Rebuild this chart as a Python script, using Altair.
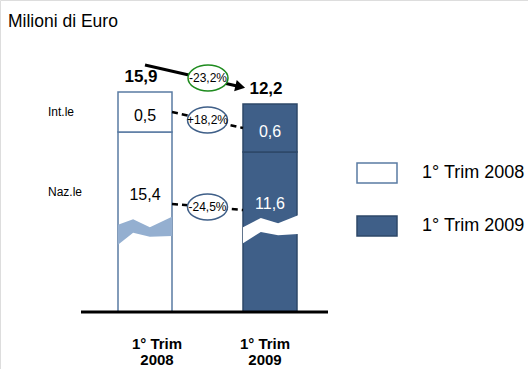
import altair as alt
import pandas as pd

# --- data -------------------------------------------------------------
periods = ["1° Trim 2008", "1° Trim 2009"]
naz = [15.4, 11.6]          # Naz.le, milioni di euro
intl = [0.5, 0.6]           # Int.le, milioni di euro
totals = [15.9, 12.2]
change_labels = ["-23,2%", "+18,2%", "-24,5%"]   # totale, Int.le, Naz.le
axis_break = [13.15, 9.6]   # part of each Naz.le bar cut out by the axis break

# --- layout constants -------------------------------------------------
FONT = "Liberation Sans"
centers = [1.0, 2.0]
half_w = 0.216
fills = ["#FFFFFF", "#3F5F88"]
strokes = ["#5A7BA3", "#2E4868"]
seg_text = ["black", "white"]
naz_label_y = [1.46, 1.35]
period_label_dx = [0.096, -0.04]
band_colors = ["#94AFD0", "#FFFFFF"]
band_shape = [  # (x fraction across bar, lower, upper) per bar
    [(0.0, 0.84, 1.09), (0.28, 0.99, 1.16), (0.59, 0.94, 1.06), (1.0, 0.95, 1.19)],
    [(0.0, 0.86, 1.06), (0.33, 1.00, 1.175), (0.65, 0.96, 1.11), (1.02, 0.975, 1.21)],
]


def fmt(v):
    return f"{v:.1f}".replace(".", ",")


xs = alt.Scale(domain=[-0.16, 4.064], nice=False, zero=False)
ys = alt.Scale(domain=[-0.7125, 3.9], nice=False, zero=False)

# --- stacked (broken) bars -------------------------------------------
bar_rows, seg_rows, top_rows, band_rows = [], [], [], []
for i, p in enumerate(periods):
    c = centers[i]
    vis_naz = naz[i] - axis_break[i]
    vis_tot = vis_naz + intl[i]
    bar_rows.append(dict(period=p, seg="Naz.le", x0=c - half_w, x1=c + half_w, lo=0.0, hi=vis_naz))
    bar_rows.append(dict(period=p, seg="Int.le", x0=c - half_w, x1=c + half_w, lo=vis_naz, hi=vis_tot))
    seg_rows.append(dict(period=p, x=c, y=vis_naz + intl[i] / 2 - 0.05, label=fmt(intl[i]), col=seg_text[i]))
    seg_rows.append(dict(period=p, x=c, y=naz_label_y[i], label=fmt(naz[i]), col=seg_text[i]))
    top_rows.append(dict(period=p, x=c, y=vis_tot + 0.19, label=fmt(totals[i]), vt=vis_tot, vi=vis_naz + intl[i] / 2))
    for fx, lo, hi in band_shape[i]:
        band_rows.append(dict(bar=i, x=c - half_w + fx * 2 * half_w, lo=lo, hi=hi))

bars_df = pd.DataFrame(bar_rows)
seg_df = pd.DataFrame(seg_rows)
top_df = pd.DataFrame(top_rows)
band_df = pd.DataFrame(band_rows)

legend = alt.Legend(
    title=None, orient="none", direction="vertical", legendX=356, legendY=152,
    symbolType="M-1,-0.5H1V0.5H-1Z", symbolSize=1600, symbolStrokeWidth=1.5,
    labelFont=FONT, labelFontSize=18, labelColor="black", labelOffset=24,
    rowPadding=19, padding=0,
)

bars = alt.Chart(bars_df).mark_bar(strokeWidth=1.5).encode(
    x=alt.X("x0:Q", scale=xs, axis=None),
    x2="x1:Q",
    y=alt.Y("lo:Q", scale=ys, axis=None),
    y2="hi:Q",
    fill=alt.Fill("period:N", scale=alt.Scale(domain=periods, range=fills), legend=legend),
    stroke=alt.Stroke("period:N", scale=alt.Scale(domain=periods, range=strokes), legend=legend),
)

bands = [
    alt.Chart(band_df[band_df.bar == i]).mark_area(color=band_colors[i], opacity=1).encode(
        x=alt.X("x:Q", scale=xs, axis=None),
        y=alt.Y("hi:Q", scale=ys, axis=None),
        y2="lo:Q",
    )
    for i in range(len(periods))
]

# --- baseline ----------------------------------------------------------
base_df = pd.DataFrame([dict(x=0.488, x2=2.464, y=0.0)])
baseline = alt.Chart(base_df).mark_rule(color="black", strokeWidth=3).encode(
    x=alt.X("x:Q", scale=xs, axis=None), x2="x2:Q", y=alt.Y("y:Q", scale=ys, axis=None)
)

# --- connectors between the two bars -----------------------------------
x_left = centers[0] + half_w
x_right = centers[1] - half_w
int_mid = list(top_df["vi"])
conn_df = pd.DataFrame([
    dict(x=x_left, x2=x_right, y=int_mid[0], y2=int_mid[1]),
    dict(x=x_left, x2=x_right, y=naz_label_y[0] - 0.11, y2=naz_label_y[1] - 0.075),
])
connectors = alt.Chart(conn_df).mark_rule(color="black", strokeWidth=2.5, strokeDash=[6, 4]).encode(
    x=alt.X("x:Q", scale=xs, axis=None), x2="x2:Q",
    y=alt.Y("y:Q", scale=ys, axis=None), y2="y2:Q",
)

arrow_df = pd.DataFrame([dict(x=1.0, y=3.0875, x2=1.762, y2=2.816)])
arrow_line = alt.Chart(arrow_df).mark_rule(color="black", strokeWidth=3).encode(
    x=alt.X("x:Q", scale=xs, axis=None), x2="x2:Q",
    y=alt.Y("y:Q", scale=ys, axis=None), y2="y2:Q",
)
arrow_head = alt.Chart(arrow_df).mark_point(
    shape="triangle-right", filled=True, color="black", size=130, angle=13, opacity=1
).encode(x=alt.X("x2:Q", scale=xs, axis=None), y=alt.Y("y2:Q", scale=ys, axis=None))

# --- change bubbles ----------------------------------------------------
ellipse = "M-1,0A1,0.65 0 1,1 1,0A1,0.65 0 1,1 -1,0Z"
bub_df = pd.DataFrame([
    dict(x=1.504, y=2.925, label=change_labels[0], col="#1E8B1E"),
    dict(x=(x_left + x_right) / 2, y=(int_mid[0] + int_mid[1]) / 2, label=change_labels[1], col="#3F5F88"),
    dict(x=(x_left + x_right) / 2, y=(naz_label_y[0] - 0.11 + naz_label_y[1] - 0.075) / 2,
         label=change_labels[2], col="#3F5F88"),
])
bubbles = alt.Chart(bub_df).mark_point(
    shape=ellipse, size=1600, filled=True, fill="white", strokeWidth=1.5, opacity=1
).encode(
    x=alt.X("x:Q", scale=xs, axis=None), y=alt.Y("y:Q", scale=ys, axis=None),
    stroke=alt.Stroke("col:N", scale=None, legend=None),
)
bubble_text = alt.Chart(bub_df).mark_text(font=FONT, fontSize=12, color="black").encode(
    x=alt.X("x:Q", scale=xs, axis=None), y=alt.Y("y:Q", scale=ys, axis=None), text="label:N"
)

# --- value labels --------------------------------------------------------
total_text = alt.Chart(top_df).mark_text(font=FONT, fontSize=17, fontWeight="bold", color="black", dx=-4).encode(
    x=alt.X("x:Q", scale=xs, axis=None), y=alt.Y("y:Q", scale=ys, axis=None), text="label:N"
)
seg_label = alt.Chart(seg_df).mark_text(font=FONT, fontSize=16).encode(
    x=alt.X("x:Q", scale=xs, axis=None), y=alt.Y("y:Q", scale=ys, axis=None), text="label:N",
    color=alt.Color("col:N", scale=None, legend=None),
)

side_df = pd.DataFrame([dict(x=0.224, y=int_mid[0], label="Int.le"), dict(x=0.224, y=1.5, label="Naz.le")])
side_text = alt.Chart(side_df).mark_text(font=FONT, fontSize=12, align="left", color="black").encode(
    x=alt.X("x:Q", scale=xs, axis=None), y=alt.Y("y:Q", scale=ys, axis=None), text="label:N"
)

per_df = pd.DataFrame([
    dict(x=centers[i] + period_label_dx[i], y=-0.40, label=p.replace(" 20", "\n20")) for i, p in enumerate(periods)
])
period_text = alt.Chart(per_df).mark_text(
    font=FONT, fontSize=15, fontWeight="bold", color="black", lineBreak="\n", lineHeight=16
).encode(x=alt.X("x:Q", scale=xs, axis=None), y=alt.Y("y:Q", scale=ys, axis=None), text="label:N")

title_df = pd.DataFrame([dict(x=-0.096, y=3.566, label="Milioni di Euro")])
title_text = alt.Chart(title_df).mark_text(
    font=FONT, fontSize=17.5, align="left", baseline="alphabetic", color="black"
).encode(x=alt.X("x:Q", scale=xs, axis=None), y=alt.Y("y:Q", scale=ys, axis=None), text="label:N")

chart = alt.layer(
    bars, *bands, baseline, connectors, arrow_line, arrow_head, bubbles, bubble_text,
    total_text, seg_label, side_text, period_text, title_text,
).properties(
    width=528, height=369, padding=0, autosize=alt.AutoSizeParams(type="none"),
).configure_view(stroke=None).configure(background="white")

chart.save("out.html", embed_options={"renderer": "svg", "actions": False})
